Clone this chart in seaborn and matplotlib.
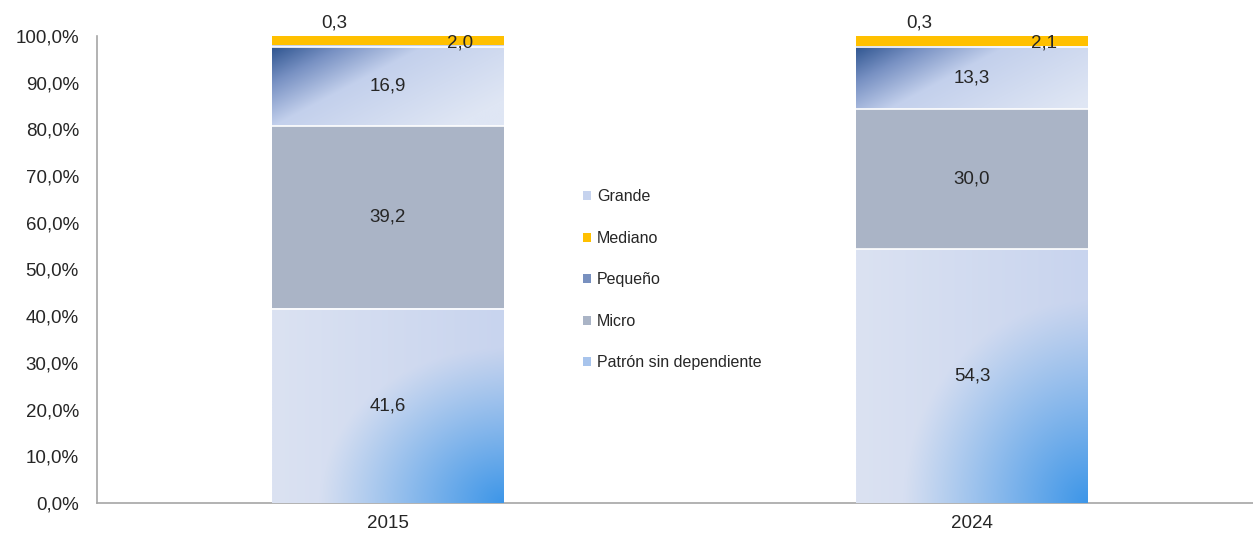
import numpy as np
import pandas as pd
import matplotlib
matplotlib.use("Agg")
import matplotlib.pyplot as plt
from matplotlib.patches import Patch
from matplotlib.colors import to_rgb
import seaborn as sns

years = ["2015", "2024"]
series = ["Patrón sin dependiente", "Micro", "Pequeño", "Grande", "Mediano"]
patron = [41.6, 54.3]
micro = [39.2, 30.0]
pequeno = [16.9, 13.3]
grande = [0.3, 0.3]
mediano = [2.0, 2.1]
legend_order = ["Grande", "Mediano", "Pequeño", "Micro", "Patrón sin dependiente"]

colors = {"Patrón sin dependiente": "#cdd8ef", "Micro": "#aab4c6",
          "Pequeño": "#c3d0ec", "Grande": "#c6d3ee", "Mediano": "#ffc000"}
legend_colors = {"Grande": "#c6d3ee", "Mediano": "#ffc000", "Pequeño": "#7890bf",
                 "Micro": "#aab4c6", "Patrón sin dependiente": "#a8c4ec"}

values = pd.DataFrame({"year": years, "Patrón sin dependiente": patron, "Micro": micro,
                       "Pequeño": pequeno, "Grande": grande, "Mediano": mediano})
cum = values[series].cumsum(axis=1)
bottoms = cum.shift(1, axis=1).fillna(0)

sns.set_style("white")
plt.rcParams["font.family"] = ["Liberation Sans", "DejaVu Sans"]

fig = plt.figure(figsize=(12.53, 5.33), dpi=100)
ax = fig.add_axes([97 / 1253, 30 / 533, 1 - 97 / 1253, 467 / 533])

width = 0.396
for i, s in enumerate(reversed(series)):
    sns.barplot(x=values["year"], y=cum[s], color=colors[s], width=width,
                ax=ax, zorder=2 + i, saturation=1, edgecolor="none")

ax.set_xlim(-0.498, 1.481)
ax.set_ylim(0, 100)
fig.canvas.draw()


def px_size(x0, x1, y0, y1):
    p0 = ax.transData.transform((x0, y0))
    p1 = ax.transData.transform((x1, y1))
    return abs(p1[0] - p0[0]), abs(p1[1] - p0[1])


def lerp_cols(stops, t):
    t = np.clip(t, stops[0][0], stops[-1][0])
    out = np.zeros(t.shape + (3,))
    for k in range(3):
        out[..., k] = np.interp(t, [s[0] for s in stops], [to_rgb(s[1])[k] for s in stops])
    return out


for i, yr in enumerate(years):
    x0, x1 = i - width / 2, i + width / 2
    # Pequeño: diagonal gradient from dark top-left
    b, t = bottoms.loc[i, "Pequeño"], cum.loc[i, "Pequeño"]
    W, H = px_size(x0, x1, b, t)
    nx, ny = int(W), int(H)
    u = np.linspace(0, W, nx)[None, :]
    d = np.linspace(0, H, ny)[:, None]
    tt = u / 150 + d / 80
    img = lerp_cols([(0, "#2f5590"), (0.45, "#7891c3"), (1.0, "#c3d0ec"), (2.2, "#dfe6f4")], tt)
    ax.imshow(img, extent=(x0, x1, b, t), origin="upper", aspect="auto",
              zorder=10, interpolation="bilinear")
    # Patrón: light base with radial blue in bottom-right corner
    b, t = bottoms.loc[i, "Patrón sin dependiente"], cum.loc[i, "Patrón sin dependiente"]
    W, H = px_size(x0, x1, b, t)
    nx, ny = int(W), int(H)
    u = np.linspace(0, 1, nx)[None, :]
    d = np.linspace(0, 1, ny)[:, None]
    base = lerp_cols([(0, "#dbe2f2"), (1, "#c8d4ee")], u + 0 * d)
    rn = np.sqrt((1 - u) ** 2 + (1 - d) ** 2)
    f = np.clip(1 - rn / 0.8, 0, 1) ** 1.1
    blue = np.array(to_rgb("#3d96e8"))
    img = base * (1 - f[..., None]) + blue * f[..., None]
    ax.imshow(img, extent=(x0, x1, b, t), origin="upper", aspect="auto",
              zorder=10, interpolation="bilinear")

# white separators between segments
for i in range(len(years)):
    for s in ["Patrón sin dependiente", "Micro", "Pequeño"]:
        ax.hlines(cum.loc[i, s], i - width / 2, i + width / 2, color="white", lw=1.2, zorder=12)

txt = "#262626"
fs = 13.5
for i in range(len(years)):
    for s in ["Patrón sin dependiente", "Micro", "Pequeño"]:
        yc = bottoms.loc[i, s] + values.loc[i, s] / 2
        ax.text(i, yc, f"{values.loc[i, s]:.1f}".replace(".", ","), ha="center", va="center",
                fontsize=fs, color=txt, zorder=20)
    ax.text(i - 0.23 * width, 102.8, f"{grande[i]:.1f}".replace(".", ","), ha="center",
            va="center", fontsize=fs, color=txt, zorder=20, clip_on=False)
    ax.text(i + 0.31 * width, 98.4, f"{mediano[i]:.1f}".replace(".", ","), ha="center",
            va="center", fontsize=fs, color=txt, zorder=20)

ax.set_xlim(-0.498, 1.481)
ax.set_ylim(0, 100)
ax.set_yticks(np.arange(0, 101, 10))
ax.set_yticklabels([f"{v:.1f}%".replace(".", ",") for v in np.arange(0, 101, 10)])
ax.set_xticks([0, 1])
ax.set_xticklabels(years)
ax.set_xticks([0.5], minor=True)
ax.tick_params(axis="x", which="major", length=0, labelsize=fs, pad=9, colors=txt)
ax.tick_params(axis="x", which="minor", length=6, width=1, color="#a6a6a6", direction="out")
ax.tick_params(axis="y", length=6, width=1, color="#a6a6a6", labelsize=fs, labelcolor=txt,
               direction="out", pad=7)
ax.set_xlabel("")
ax.set_ylabel("")
for sp in ["top", "right"]:
    ax.spines[sp].set_visible(False)
for sp in ["left", "bottom"]:
    ax.spines[sp].set_color("#a6a6a6")
    ax.spines[sp].set_linewidth(1.2)

handles = [Patch(facecolor=legend_colors[s], edgecolor="none") for s in legend_order]
leg = fig.legend(handles, legend_order, loc="upper left", bbox_to_anchor=(569 / 1253, 1 - 175 / 533),
                 frameon=False, fontsize=11.5, handlelength=0.5, handleheight=0.5,
                 handletextpad=0.35, labelspacing=1.66)
for tx in leg.get_texts():
    tx.set_color(txt)

fig.savefig("out.png", dpi=100)
